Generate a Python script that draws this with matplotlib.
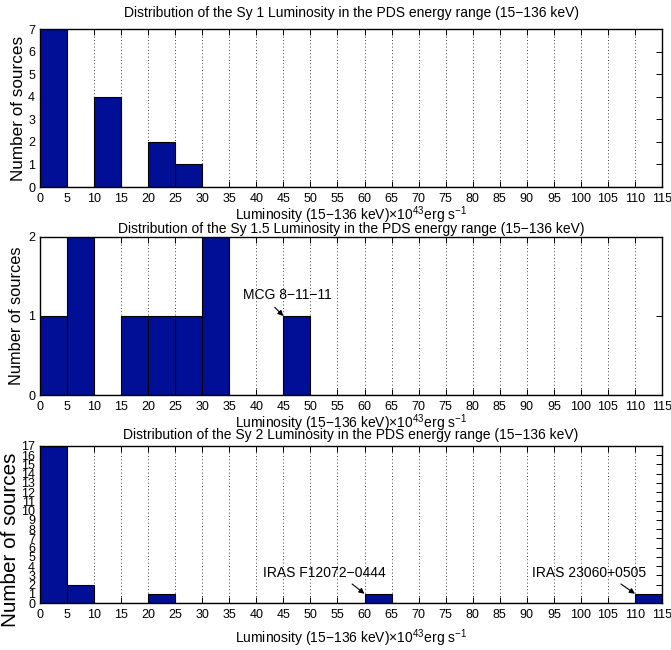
import numpy as np
import matplotlib.pyplot as plt

plt.rcParams['font.family'] = ['Liberation Sans', 'DejaVu Sans']
plt.rcParams['mathtext.default'] = 'regular'

# bins of 5 (x10^43 erg/s) from 0 to 115
bin_edges = list(range(0, 120, 5))

sy1_counts = [7, 0, 4, 0, 2, 1, 0, 0, 0, 0, 0, 0, 0, 0, 0, 0, 0, 0, 0, 0, 0, 0, 0]
sy15_counts = [1, 2, 0, 1, 1, 1, 2, 0, 0, 1, 0, 0, 0, 0, 0, 0, 0, 0, 0, 0, 0, 0, 0]
sy2_counts = [17, 2, 0, 0, 1, 0, 0, 0, 0, 0, 0, 0, 1, 0, 0, 0, 0, 0, 0, 0, 0, 0, 1]

titles = ['Distribution of the Sy 1 Luminosity in the PDS energy range (15\u2212136 keV)',
          'Distribution of the Sy 1.5 Luminosity in the PDS energy range (15\u2212136 keV)',
          'Distribution of the Sy 2 Luminosity in the PDS energy range (15\u2212136 keV)']
xlab = 'Luminosity (15\u2212136 keV)$\\times$10$^{43}$erg s$^{\u22121}$'

bar_color = '#000f96'

fig = plt.figure(figsize=(6.71, 6.5), dpi=100)
W, H = 671, 650
boxes = [(40, 29, 187), (40, 237, 395), (40, 446, 603)]
all_counts = [sy1_counts, sy15_counts, sy2_counts]
ymax = [7, 2, 17]
title_pad = [8.5, 3, 5]
ylab_size = [12.3, 11.8, 14.9]
ylab_pos = [(-0.0225, 0.5), (-0.026, 0.5), (-0.032, 0.4)]
xlab_pad = [0, 0, 5]

axes = []
for i, (l, t, b) in enumerate(boxes):
    ax = fig.add_axes([l / W, (H - b) / H, (662 - l) / W, (b - t) / H])
    counts = all_counts[i]
    ax.bar(bin_edges[:-1], counts, width=5, align='edge', color=bar_color,
           edgecolor='black', linewidth=0.8, zorder=3)
    ax.set_xlim(0, 115)
    ax.set_ylim(0, ymax[i])
    ax.set_xticks(bin_edges)
    ax.set_yticks(range(0, ymax[i] + 1))
    ax.tick_params(direction='in', top=True, right=True, length=4, width=0.7,
                   labelsize=9)
    ax.tick_params(axis='x', pad=4)
    ax.tick_params(axis='y', pad=3.5)
    ax.xaxis.grid(True, linestyle=(0, (1, 3)), color='black', linewidth=0.6, zorder=0)
    ax.set_axisbelow(True)
    for s in ax.spines.values():
        s.set_linewidth(1.0)
        s.set_zorder(4)
    ax.set_title(titles[i], fontsize=10, pad=title_pad[i])
    ax.set_xlabel(xlab, fontsize=10, labelpad=xlab_pad[i])
    ax.set_ylabel('Number of sources', fontsize=ylab_size[i])
    ax.yaxis.set_label_coords(*ylab_pos[i])
    axes.append(ax)

arrow = dict(arrowstyle='-|>', color='black', lw=0.8, mutation_scale=8,
             shrinkA=0, shrinkB=0)
axes[1].text(37.5, 1.27, 'MCG 8\u221211\u221211', fontsize=10, va='center')
axes[1].annotate('', xy=(45, 1), xytext=(43.4, 1.11), arrowprops=arrow)
axes[2].text(41.2, 3.25, 'IRAS F12072\u22120444', fontsize=10, va='center')
axes[2].annotate('', xy=(60, 1), xytext=(57.7, 2.06), arrowprops=arrow)
axes[2].text(91, 3.25, 'IRAS 23060+0505', fontsize=10, va='center')
axes[2].annotate('', xy=(110, 1), xytext=(107.4, 2.06), arrowprops=arrow)

fig.savefig('out.png', dpi=100)
